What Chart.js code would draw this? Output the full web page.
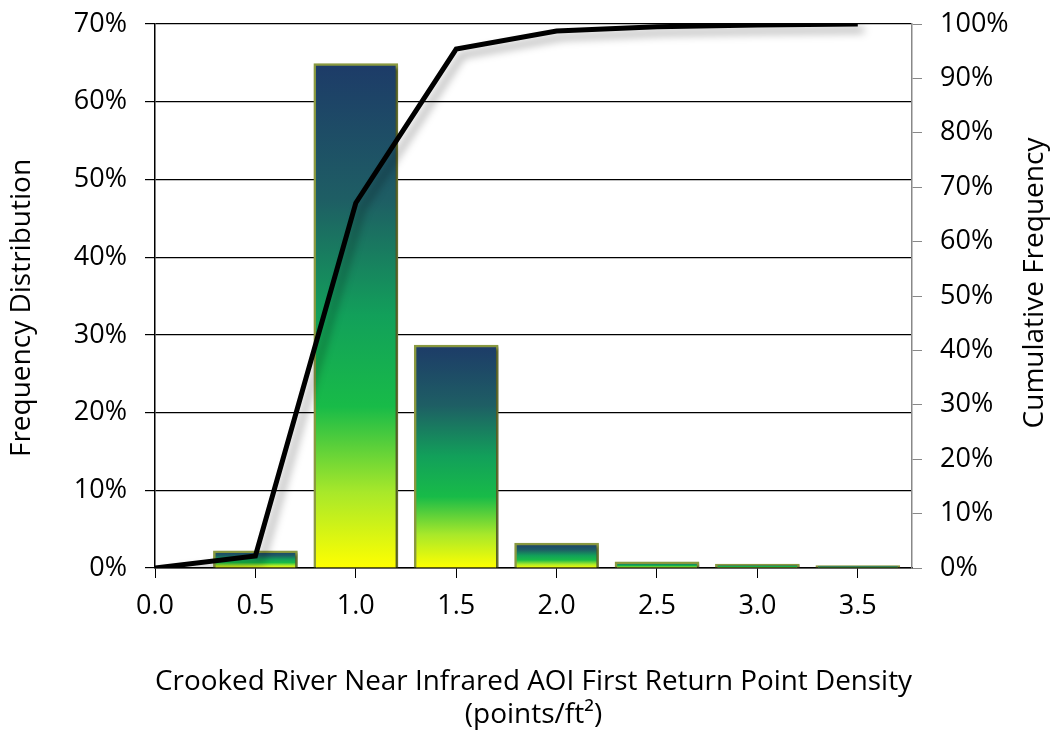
<!DOCTYPE html>
<html>
<head>
<meta charset="utf-8">
<script src="https://cdn.jsdelivr.net/npm/chart.js@4/dist/chart.umd.min.js"></script>
<style>
  html, body { margin: 0; padding: 0; background: #fff; }
  #wrap { width: 1055px; height: 734px; }
</style>
</head>
<body>
<div id="wrap"><canvas id="densityChart"></canvas></div>
<script>
// bin centres (points/ft²) and the two series, in percent
const binCenters = [0.0, 0.5, 1.0, 1.5, 2.0, 2.5, 3.0, 3.5];
const freqPct = [null, 2.2, 64.9, 28.7, 3.2, 0.8, 0.5, 0.3];
const cumPct = [0, 2.2, 67.1, 95.4, 98.7, 99.5, 99.8, 100];
const leftTicks = [0, 10, 20, 30, 40, 50, 60, 70];
const rightTicks = [0, 10, 20, 30, 40, 50, 60, 70, 80, 90, 100];

const FONT = '"Open Sans", sans-serif';
const tickFont = { family: FONT, size: 27 };
const titleFont = { family: FONT, size: 28 };

// each bar gets its own top-to-bottom gradient
const barFill = (ctx) => {
    const chart = ctx.chart;
    const y = chart.scales.y;
    if (!y || !ctx.raw || ctx.raw.y == null) return '#14b050';
    const top = y.getPixelForValue(ctx.raw.y);
    const bottom = y.getPixelForValue(0);
    const g = chart.ctx.createLinearGradient(0, top, 0, bottom);
    g.addColorStop(0, '#1d3b68');
    g.addColorStop(0.27, '#1e5e64');
    g.addColorStop(0.5, '#12a05a');
    g.addColorStop(0.68, '#18bb48');
    g.addColorStop(0.85, '#a8e82a');
    g.addColorStop(1, '#ffff00');
    return g;
};

const shadowPlugin = {
    id: 'shadows',
    beforeDatasetDraw(chart, args) {
        const c = chart.ctx;
        c.save();
        if (args.meta.type === 'line') {
            c.shadowColor = 'rgba(0,0,0,0.35)';
            c.shadowBlur = 8;
            c.shadowOffsetX = 6;
            c.shadowOffsetY = 6;
        } else {
            c.shadowColor = 'rgba(0,0,0,0.55)';
            c.shadowBlur = 3;
            c.shadowOffsetX = 2;
            c.shadowOffsetY = 2;
        }
    },
    afterDatasetDraw(chart) {
        chart.ctx.restore();
    }
};

// both y titles read bottom-to-top, so draw them by hand
const sideTitles = {
    id: 'sideTitles',
    afterDraw(chart) {
        const c = chart.ctx;
        const draw = (text, x, y) => {
            c.save();
            c.translate(x, y);
            c.rotate(-Math.PI / 2);
            c.font = titleFont.size + 'px ' + FONT;
            c.fillStyle = '#000';
            c.textAlign = 'center';
            c.textBaseline = 'middle';
            c.fillText(text, 0, 0);
            c.restore();
        };
        draw('Frequency Distribution', 22, 308);
        draw('Cumulative Frequency', 1035, 283);
    }
};

const fitY = (w) => (s) => {
    s.width = w;
    s.paddingTop = 0;
    s.paddingBottom = 0;
};

const buildChart = () => {
    const ctx = document.getElementById('densityChart').getContext('2d');
    new Chart(ctx, {
        type: 'bar',
        data: {
            datasets: [{
                type: 'line',
                label: 'Cumulative Frequency',
                data: binCenters.map((x, i) => ({ x: x, y: cumPct[i] })),
                yAxisID: 'y2',
                borderColor: '#000',
                borderWidth: 5,
                pointRadius: 0,
                tension: 0,
                order: 0,
            }, {
                label: 'Frequency Distribution',
                data: binCenters.map((x, i) => ({ x: x, y: freqPct[i] })),
                yAxisID: 'y',
                backgroundColor: barFill,
                borderColor: '#8a9a40',
                borderWidth: 2.5,
                barThickness: 84,
                order: 1,
            }],
        },
        options: {
            responsive: true,
            maintainAspectRatio: false,
            animation: false,
            layout: { padding: { top: 24, left: 0, right: 0, bottom: 0 } },
            plugins: {
                legend: { display: false },
                tooltip: { enabled: false },
            },
            scales: {
                x: {
                    type: 'linear',
                    offset: false,
                    min: 0,
                    max: 3.77,
                    afterBuildTicks: (s) => { s.ticks = binCenters.map(v => ({ value: v })); },
                    afterFit: (s) => { s.height = 166; s.paddingLeft = 0; s.paddingRight = 0; },
                    ticks: {
                        font: tickFont,
                        color: '#000',
                        padding: 12,
                        maxRotation: 0,
                        callback: (v) => Number(v).toFixed(1),
                    },
                    grid: { drawOnChartArea: false, offset: false, color: '#000', tickLength: 10 },
                    border: { color: '#000', width: 1.5 },
                    title: {
                        display: true,
                        text: ['Crooked River Near Infrared AOI First Return Point Density', '(points/ft²)'],
                        font: titleFont,
                        color: '#000',
                        padding: { top: 0, bottom: 2 },
                    },
                },
                y: {
                    position: 'left',
                    min: 0,
                    max: 70,
                    afterBuildTicks: (s) => { s.ticks = leftTicks.map(v => ({ value: v })); },
                    afterFit: fitY(155),
                    ticks: {
                        font: tickFont,
                        color: '#000',
                        padding: 18,
                        callback: (v) => v + '%',
                    },
                    grid: { color: '#000', lineWidth: 1.2, tickLength: 10 },
                    border: { color: '#000', width: 1.5 },
                },
                y2: {
                    position: 'right',
                    min: 0,
                    max: 100,
                    afterBuildTicks: (s) => { s.ticks = rightTicks.map(v => ({ value: v })); },
                    afterFit: fitY(143),
                    ticks: {
                        font: tickFont,
                        color: '#000',
                        padding: 18,
                        callback: (v) => v + '%',
                    },
                    grid: { drawOnChartArea: false, color: '#888', tickLength: 10 },
                    border: { color: '#888', width: 1.5 },
                },
            },
        },
        plugins: [shadowPlugin, sideTitles],
    });
};

window.onload = () => {
    buildChart();
};
</script>
</body>
</html>
